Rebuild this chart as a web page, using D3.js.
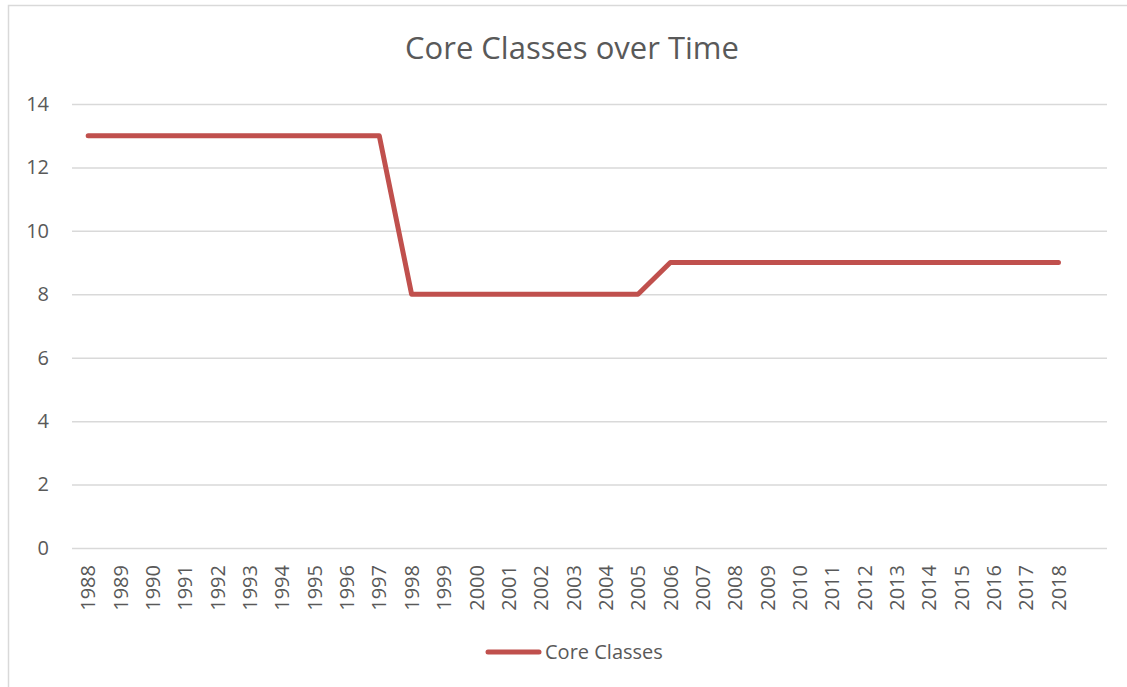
<!DOCTYPE html>
<html>
<head>
<meta charset="utf-8">
<script src="https://cdn.jsdelivr.net/npm/d3@7"></script>
<style>
  html, body { margin: 0; padding: 0; background: #fff; }
  svg { display: block; font-family: "Open Sans", sans-serif; }
</style>
</head>
<body>
<div id="chart"></div>
<script>
// --- data ---
const years = ["1988", "1989", "1990", "1991", "1992", "1993", "1994", "1995",
    "1996", "1997", "1998", "1999", "2000", "2001", "2002", "2003", "2004",
    "2005", "2006", "2007", "2008", "2009", "2010", "2011", "2012", "2013",
    "2014", "2015", "2016", "2017", "2018"];
const coreClasses = [13, 13, 13, 13, 13, 13, 13, 13, 13, 13,
    8, 8, 8, 8, 8, 8, 8, 8,
    9, 9, 9, 9, 9, 9, 9, 9, 9, 9, 9, 9, 9];
const yTicks = [0, 2, 4, 6, 8, 10, 12, 14];
const seriesName = "Core Classes";
const title = "Core Classes over Time";

const width = 1127, height = 687;
const m = { top: 104, right: 20, bottom: 139, left: 72 };
const innerW = 1107 - m.left;
const innerH = height - m.top - m.bottom;

const grey = "#595959", gridCol = "#d9d9d9", lineCol = "#c0504d";

const svg = d3.select("#chart").append("svg")
    .attr("width", width)
    .attr("height", height);

// chart frame (runs off the right and bottom edge like the source)
svg.append("rect")
    .attr("x", 8.5).attr("y", 5.5)
    .attr("width", width + 20).attr("height", height + 20)
    .attr("fill", "#fff")
    .attr("stroke", gridCol)
    .attr("stroke-width", 1.5);

const plot = svg.append("g").attr("transform", `translate(${m.left},${m.top})`);

// one empty slot after 2018, as in the source
const x = d3.scaleBand().domain(years.concat([""])).range([0, innerW]);
const y = d3.scaleLinear().domain([0, 14]).range([innerH, 0]);

// y gridlines + labels
const yAxis = plot.append("g")
    .call(d3.axisLeft(y).tickValues(yTicks).tickSize(-innerW).tickPadding(23));
yAxis.select(".domain").remove();
yAxis.selectAll(".tick line").attr("stroke", gridCol).attr("stroke-width", 1.5);
yAxis.selectAll(".tick text")
    .attr("fill", grey)
    .style("font-size", "20px")
    .style("font-family", "'Open Sans', sans-serif");

// x labels, rotated
const xAxis = plot.append("g")
    .attr("transform", `translate(0,${innerH})`)
    .call(d3.axisBottom(x).tickSize(0));
xAxis.select(".domain").remove();
xAxis.selectAll(".tick text")
    .attr("fill", grey)
    .style("font-size", "20px")
    .style("font-family", "'Open Sans', sans-serif")
    .attr("text-anchor", "end")
    .attr("transform", "rotate(-90)")
    .attr("x", -17)
    .attr("y", 0)
    .attr("dy", "0.36em");

// series line
const line = d3.line()
    .x((d, i) => x(years[i]) + x.bandwidth() / 2)
    .y(d => y(d));

plot.append("path")
    .datum(coreClasses)
    .attr("fill", "none")
    .attr("stroke", lineCol)
    .attr("stroke-width", 5)
    .attr("stroke-linecap", "round")
    .attr("stroke-linejoin", "round")
    .attr("d", line);

// title
svg.append("text")
    .attr("x", 572).attr("y", 59)
    .attr("text-anchor", "middle")
    .attr("fill", grey)
    .style("font-size", "31px")
    .text(title);

// legend
const leg = svg.append("g");
leg.append("line")
    .attr("x1", 488).attr("x2", 539)
    .attr("y1", 652).attr("y2", 652)
    .attr("stroke", lineCol)
    .attr("stroke-width", 5)
    .attr("stroke-linecap", "round");
leg.append("text")
    .attr("x", 545).attr("y", 659)
    .attr("fill", grey)
    .style("font-size", "20px")
    .text(seriesName);
</script>
</body>
</html>
